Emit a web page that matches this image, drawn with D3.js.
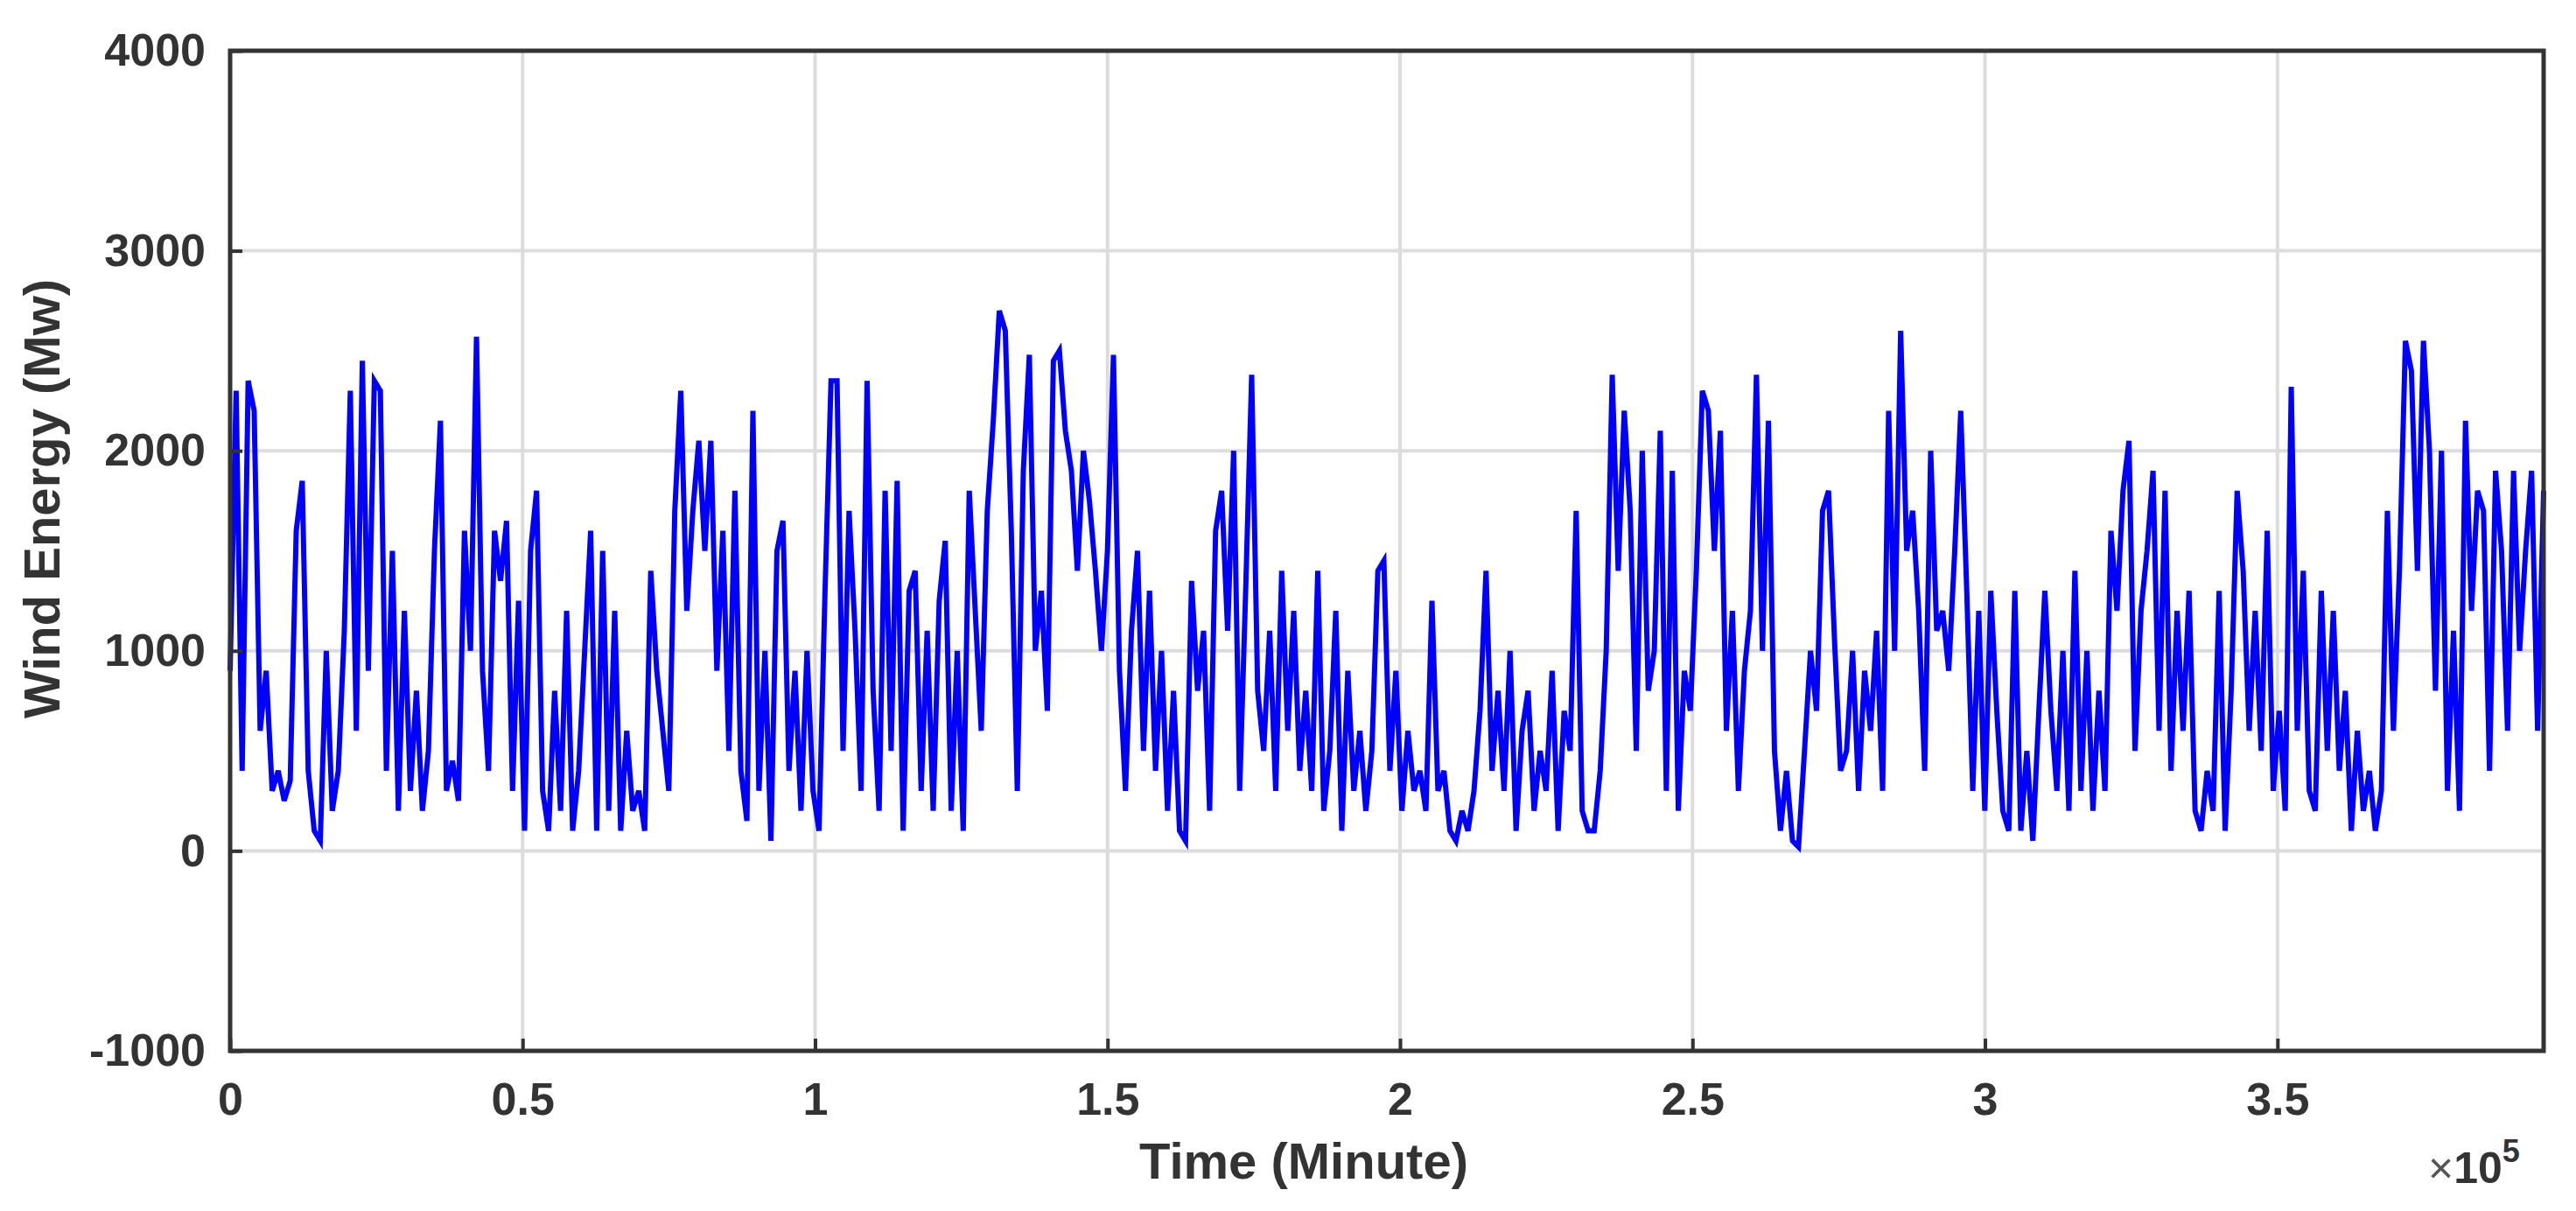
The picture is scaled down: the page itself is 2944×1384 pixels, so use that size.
<!DOCTYPE html>
<html>
<head>
<meta charset="utf-8">
<script src="https://cdn.jsdelivr.net/npm/d3@7"></script>
<style>
  body { margin: 0; background: #fff; }
  text { font-family: "Liberation Sans", Arial, sans-serif; font-weight: bold; fill: #333; }
</style>
</head>
<body>
<div id="chart"></div>
<script>
const xMax = 395500;
const yTicks = [-1000, 0, 1000, 2000, 3000, 4000];
const xTicks = [0, 0.5e5, 1e5, 1.5e5, 2e5, 2.5e5, 3e5, 3.5e5];
const xTickLabels = ["0", "0.5", "1", "1.5", "2", "2.5", "3", "3.5"];

// wind energy (MW) at ~1000 minute steps
const energy = [
  900,2300,400,2350,2200,600,900,300,400,250,
  350,1600,1850,400,100,50,1000,200,400,1100,
  2300,600,2450,900,2350,2300,400,1500,200,1200,
  300,800,200,500,1500,2150,300,450,250,1600,
  1000,2570,900,400,1600,1350,1650,300,1250,100,
  1500,1800,300,100,800,200,1200,100,400,1000,
  1600,100,1500,200,1200,100,600,200,300,100,
  1400,900,600,300,1700,2300,1200,1700,2050,1500,
  2050,900,1600,500,1800,400,150,2200,300,1000,
  50,1500,1650,400,900,200,1000,300,100,1300,
  2350,2350,500,1700,1100,300,2350,800,200,1800,
  500,1850,100,1300,1400,300,1100,200,1250,1550,
  200,1000,100,1800,1200,600,1700,2150,2700,2600,
  1600,300,1900,2480,1000,1300,700,2450,2500,2100,
  1900,1400,2000,1750,1400,1000,1500,2480,900,300,
  1100,1500,500,1300,400,1000,200,800,100,50,
  1350,800,1100,200,1600,1800,1100,2000,300,1300,
  2380,800,500,1100,300,1400,600,1200,400,800,
  300,1400,200,500,1200,100,900,300,600,200,
  500,1400,1450,400,900,200,600,300,400,200,
  1250,300,400,100,50,200,100,300,700,1400,
  400,800,300,1000,100,600,800,200,500,300,
  900,100,700,500,1700,200,100,100,400,1000,
  2380,1400,2200,1700,500,2000,800,1000,2100,300,
  1900,200,900,700,1400,2300,2200,1500,2100,600,
  1200,300,900,1200,2380,1000,2150,500,100,400,
  50,20,500,1000,700,1700,1800,1050,400,500,
  1000,300,900,600,1100,300,2200,1000,2600,1500,
  1700,1200,400,2000,1100,1200,900,1500,2200,1300,
  300,1200,200,1300,700,200,100,1300,100,500,
  50,700,1300,700,300,1000,200,1400,300,1000,
  200,800,300,1600,1200,1800,2050,500,1200,1500,
  1900,600,1800,400,1200,600,1300,200,100,400,
  200,1300,100,800,1800,1400,600,1200,500,1600,
  300,700,200,2320,600,1400,300,200,1300,500,
  1200,400,800,100,600,200,400,100,300,1700,
  600,1400,2550,2400,1400,2550,2000,800,2000,300,
  1100,200,2150,1200,1800,1700,400,1900,1500,600,
  1900,1000,1500,1900,600,1800
];

const W = 2944, H = 1384;
const m = { left: 263, right: 37, top: 58, bottom: 183 };
const iw = W - m.left - m.right, ih = H - m.top - m.bottom;

const svg = d3.select("#chart").append("svg").attr("width", W).attr("height", H);
const g = svg.append("g").attr("transform", `translate(${m.left},${m.top})`);

const x = d3.scaleLinear().domain([0, xMax]).range([0, iw]);
const y = d3.scaleLinear().domain([-1000, 4000]).range([ih, 0]);

// grid
g.selectAll(".gx").data(xTicks.slice(1)).join("line")
  .attr("x1", d => x(d)).attr("x2", d => x(d)).attr("y1", 0).attr("y2", ih)
  .attr("stroke", "#dcdcdc").attr("stroke-width", 4);
g.selectAll(".gy").data(yTicks.slice(1, -1)).join("line")
  .attr("x1", 0).attr("x2", iw).attr("y1", d => y(d)).attr("y2", d => y(d))
  .attr("stroke", "#dcdcdc").attr("stroke-width", 4);

const step = xMax / (energy.length - 1);
const line = d3.line().x((d, i) => x(i * step)).y(d => y(d));
g.append("path").datum(energy).attr("d", line)
  .attr("fill", "none").attr("stroke", "#0000ff").attr("stroke-width", 6)
  .attr("stroke-linejoin", "miter");

// axes
const xAxis = d3.axisBottom(x).tickValues(xTicks).tickFormat((d, i) => xTickLabels[i])
  .tickSizeInner(-14).tickSizeOuter(0).tickPadding(36);
const yAxis = d3.axisLeft(y).tickValues(yTicks).tickFormat(d => String(d))
  .tickSizeInner(-14).tickSizeOuter(0).tickPadding(28);
const xa = g.append("g").attr("transform", `translate(0,${ih})`).call(xAxis);
const ya = g.append("g").call(yAxis);
[xa, ya].forEach(a => {
  a.select(".domain").remove();
  a.selectAll(".tick line").attr("stroke", "#333").attr("stroke-width", 4);
  a.selectAll("text").style("font-size", "52px").attr("fill", "#333");
});

// box
g.append("rect").attr("width", iw).attr("height", ih)
  .attr("fill", "none").attr("stroke", "#333").attr("stroke-width", 5);

svg.append("text").attr("x", 1490).attr("y", 1347).attr("text-anchor", "middle")
  .style("font-size", "58px").text("Time (Minute)");
svg.append("text").attr("transform", "translate(68,570) rotate(-90)").attr("text-anchor", "middle")
  .style("font-size", "58px").text("Wind Energy (Mw)");
const ex = svg.append("text").attr("x", 2775).attr("y", 1352).style("font-size", "50px");
ex.append("tspan").style("font-weight", "normal").style("fill", "#555").text("×");
ex.append("tspan").text("10");
ex.append("tspan").attr("dy", -24).style("font-size", "36px").text("5");
</script>
</body>
</html>
